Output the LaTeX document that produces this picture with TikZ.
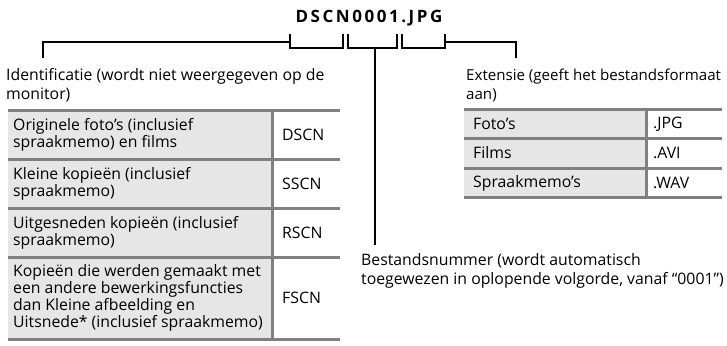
\documentclass[tikz,border=0pt]{standalone}
\usepackage{fontspec}
\setmainfont{Open Sans}
\newfontfamily\titlefont[LetterSpace=15]{Open Sans}
\definecolor{cellgray}{HTML}{E6E6E6}
\definecolor{rulegray}{HTML}{808080}
\begin{document}
\begin{tikzpicture}[x=1pt,y=-1pt,
  txt/.style={inner sep=0pt, anchor=west, align=left, font=\fontsize{15.8}{17}\selectfont},
  lbl/.style={inner sep=0pt, anchor=base west, align=left, font=\fontsize{15.8}{19}\selectfont},
  rulefill/.style={fill=cellgray, draw=none},
  rule/.style={draw=rulegray, line width=3pt},
  lead/.style={draw=black, line width=2pt},
]
\useasboundingbox (0,0) rectangle (727,345);
% title
\node[inner sep=0pt, font=\titlefont\bfseries\fontsize{17}{19}\selectfont] (title) at (369,18) {DSCN0001.JPG};
% brackets
\coordinate (b1a) at (290,34); \coordinate (b1b) at (343,34);
\coordinate (b2a) at (348,34); \coordinate (b2b) at (397,34);
\coordinate (b3a) at (402,34); \coordinate (b3b) at (445,34);
\draw[lead] (b1a) -- ++(0,14) -| (b1b);
\draw[lead] (b2a) -- ++(0,14) -| (b2b);
\draw[lead] (b3a) -- ++(0,14) -| (b3b);
\coordinate (b1m) at (290,42);
\coordinate (b2m) at (375,48);
\coordinate (b3m) at (445,42);
% labels (anchor = baseline of last line)
\node[lbl] (id) at (6,99) {Identificatie (wordt niet weergegeven op de\\monitor)};
\node[lbl, font=\fontsize{15.1}{19}\selectfont] (ext) at (466,99) {Extensie (geeft het bestandsformaat\\aan)};
\node[lbl] (num) at (361,284) {Bestandsnummer (wordt automatisch\\toegewezen in oplopende volgorde, vanaf “0001”)};
\coordinate (idtop) at (43,58);
\coordinate (exttop) at (516,58);
\coordinate (numtop) at (375,245);
\draw[lead] (idtop) |- (b1m);
\draw[lead] (b3m) -| (exttop);
\draw[lead] (b2m) -- (numtop);
% left table
\path[rulefill] (8,110) rectangle (271,339);
\foreach \y in {110,159,208,257,339} \draw[rule] (8,\y) -- (340,\y);
\draw[rule] (272,110) -- (272,339);
\node[txt] (r1) at (13,134.5) {Originele foto's (inclusief\\spraakmemo) en films};
\node[txt] (c1) at (282,134.5) {DSCN};
\node[txt] (r2) at (13,183.5) {Kleine kopieën (inclusief\\spraakmemo)};
\node[txt] (c2) at (282,183.5) {SSCN};
\node[txt] (r3) at (13,232.5) {Uitgesneden kopieën (inclusief\\spraakmemo)};
\node[txt] (c3) at (282,232.5) {RSCN};
\node[txt] (r4) at (13,298) {Kopieën die werden gemaakt met\\een andere bewerkingsfuncties\\dan Kleine afbeelding en\\Uitsnede* (inclusief spraakmemo)};
\node[txt] (c4) at (282,298) {FSCN};
% right table
\path[rulefill] (464,109) rectangle (645,197);
\foreach \y in {109,138.5,168,197} \draw[rule] (464,\y) -- (722,\y);
\draw[rule] (646,109) -- (646,197);
\node[txt] (e1) at (473,124) {Foto's};
\node[txt] (x1) at (653,124) {.JPG};
\node[txt] (e2) at (473,153) {Films};
\node[txt] (x2) at (653,153) {.AVI};
\node[txt] (e3) at (473,183) {Spraakmemo's};
\node[txt] (x3) at (653,183) {.WAV};
\end{tikzpicture}
\end{document}
